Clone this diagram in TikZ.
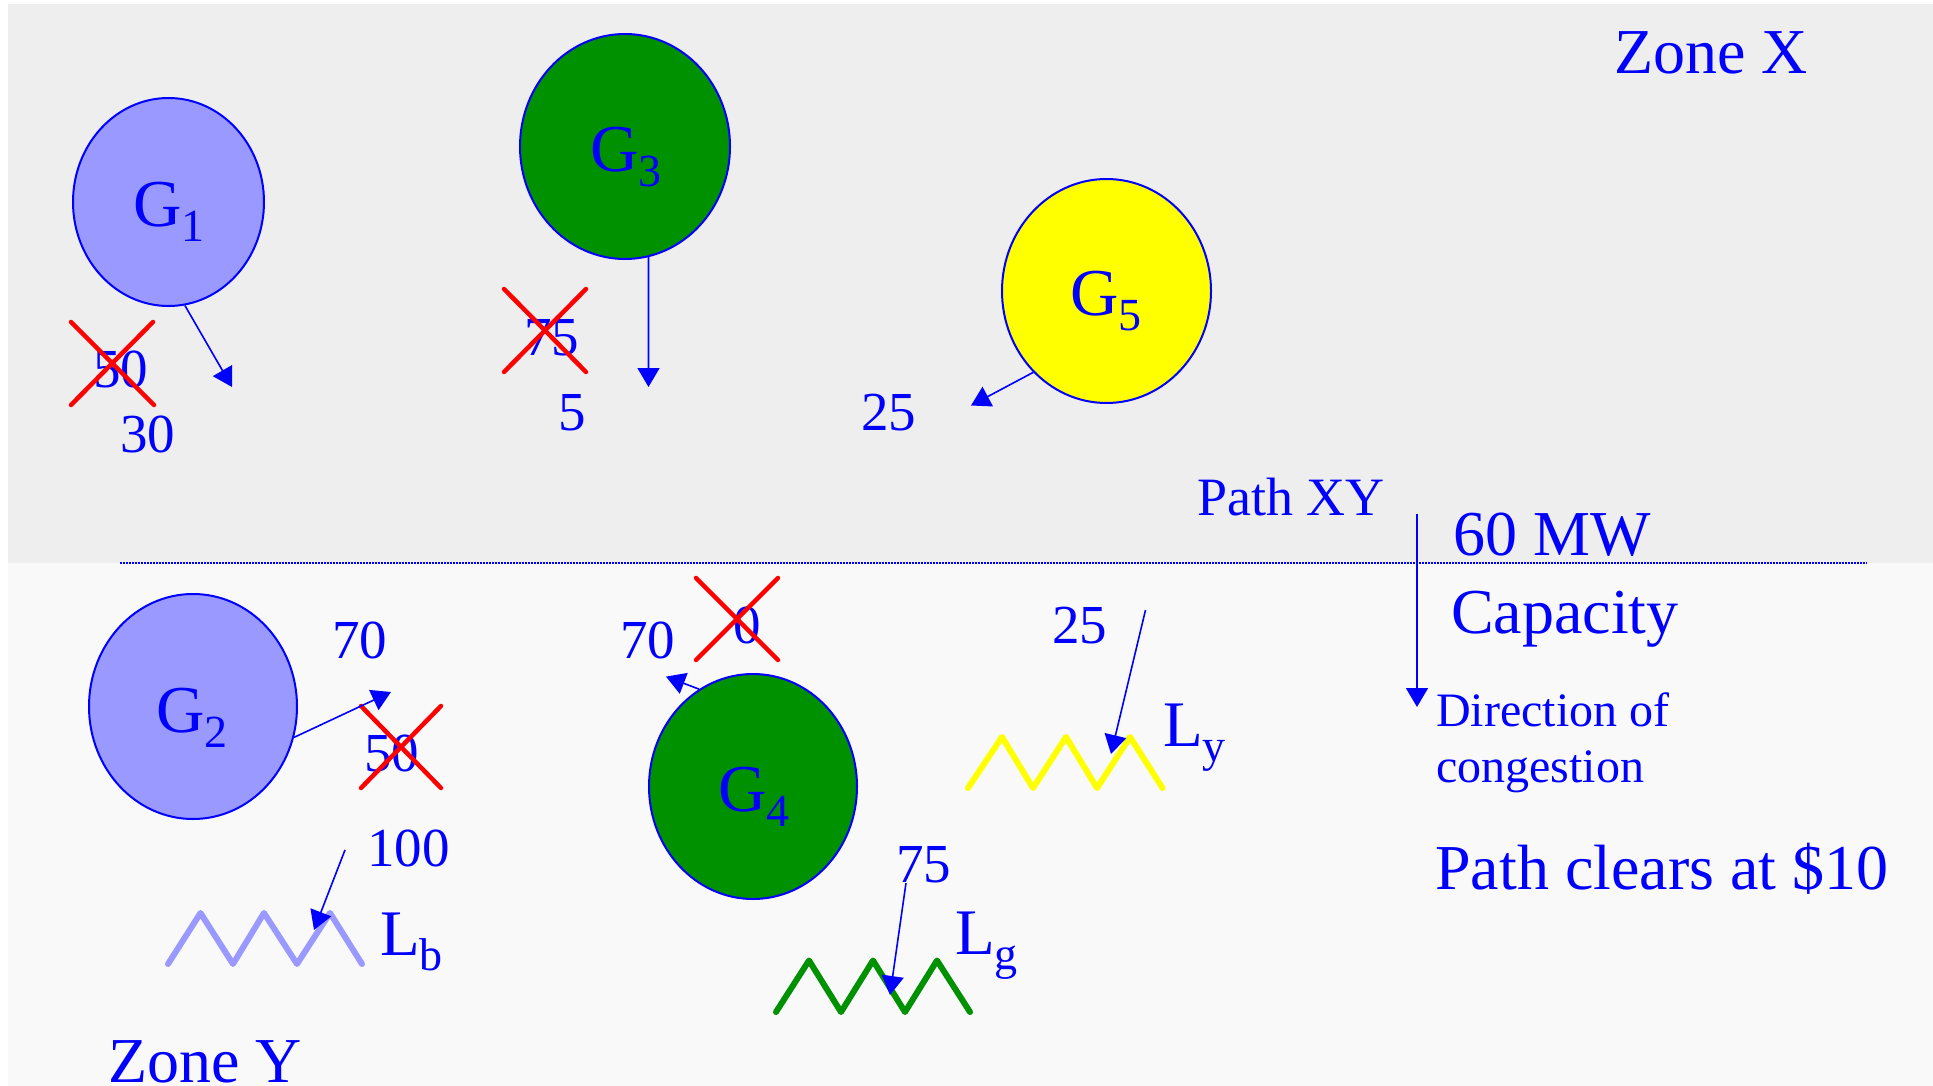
\documentclass[tikz,border=0pt]{standalone}
\usepackage{fontspec}
\setmainfont{Liberation Serif}
\usetikzlibrary{shapes.geometric, arrows.meta}
\definecolor{gbg}{HTML}{EEEEEE}
\definecolor{lbg}{HTML}{F9F9F9}
\definecolor{lblue}{HTML}{9999FF}
\definecolor{dgreen}{HTML}{009100}
\definecolor{myblue}{HTML}{0000FF}
\definecolor{myred}{HTML}{FF0000}
\definecolor{myyellow}{HTML}{FFFF00}
\newcommand\mysub[1]{\raisebox{-15pt}{\fontsize{46}{46}\selectfont #1}}
\begin{document}
\begin{tikzpicture}[x=1pt,y=-1pt,
  gen/.style={ellipse, draw=myblue, line width=2pt, inner sep=0pt},
  lab/.style={text=myblue, inner sep=0pt, anchor=base west},
  glab/.style={lab, font=\fontsize{67}{67}\selectfont},
  num/.style={lab, font=\fontsize{55}{55}\selectfont},
  big/.style={lab, font=\fontsize{64}{64}\selectfont},
  mid/.style={lab, font=\fontsize{48}{48}\selectfont},
  flow/.style={draw=myblue, line width=1.6pt, -{Triangle[length=19pt,width=22pt]}},
  cross/.style={draw=myred, line width=4.5pt, line cap=round},
  loadzz/.style={line width=6pt, line cap=round, line join=round},
]
\useasboundingbox (0,0) rectangle (1933,1086);
\fill[white] (0,0) rectangle (1933,1086);
\fill[gbg] (8,4) rectangle (1933,563);
\fill[lbg] (8,563) rectangle (1933,1086);
\draw[myblue, line width=1.5pt, dash pattern=on 1.5pt off 1.5pt] (120,563) -- (1867,563);

% generators
\node[gen, fill=lblue, minimum width=191pt, minimum height=208pt] (g1) at (168.5,202) {};
\node[gen, fill=dgreen, minimum width=210pt, minimum height=225pt] (g3) at (625,146.5) {};
\node[gen, fill=myyellow, minimum width=209pt, minimum height=224pt] (g5) at (1106.5,291) {};
\node[gen, fill=lblue, minimum width=208pt, minimum height=225pt] (g2) at (193,706.5) {};
\node[gen, fill=dgreen, minimum width=208pt, minimum height=225pt] (g4) at (753,786.5) {};

\node[glab] (g1l) at (133,227) {G\mysub{1}};
\node[glab] (g3l) at (590,172) {G\mysub{3}};
\node[glab] (g5l) at (1070,315) {G\mysub{5}};
\node[glab] (g2l) at (156,732) {G\mysub{2}};
\node[glab] (g4l) at (718,811) {G\mysub{4}};

% loads
\draw[loadzz, lblue] (168,964)--(200.5,913)--(233,964)--(264,913)--(297,964)--(330,913)--(362,964);
\draw[loadzz, myyellow] (968,788)--(1002,737)--(1033,788)--(1066,737)--(1097,788)--(1130,737)--(1162.5,788);
\draw[loadzz, dgreen] (776,1012)--(809,960.5)--(841,1012)--(873,960.5)--(905,1012)--(937,960.5)--(970,1012);

\node[glab, font=\fontsize{65}{65}\selectfont] (lbl) at (380,955) {L\mysub{b}};
\node[glab, font=\fontsize{65}{65}\selectfont] (lyl) at (1163,746) {L\mysub{y}};
\node[glab, font=\fontsize{65}{65}\selectfont] (lgl) at (955,954) {L\mysub{g}};

% numbers
\node[num] (n50a) at (93,387) {50};
\node[num] (n30) at (120,452) {30};
\node[num] (n75a) at (524,355) {75};
\node[num] (n5) at (558,430) {5};
\node[num] (n25a) at (861,430) {25};
\node[num] (n70a) at (332,658) {70};
\node[num] (n50b) at (364,771) {50};
\node[num] (n100) at (367,866) {100};
\node[num] (n70b) at (620,658) {70};
\node[num] (n0) at (733,643) {0};
\node[num] (n25b) at (1052,643) {25};
\node[num] (n75b) at (896,882) {75};

% crosses
\draw[cross] (71,322)--(154,405) (153,322)--(71,405);
\draw[cross] (504,289)--(586,372) (586,289)--(504,372);
\draw[cross] (361,706)--(441,788) (441,706)--(361,788);
\draw[cross] (696,578)--(778,660) (778,578)--(696,660);

% flow arrows
\coordinate (t1) at (232,387);
\coordinate (t3) at (648.5,387);
\coordinate (t5) at (971,405.5);
\coordinate (t2) at (391,692);
\coordinate (t4) at (666,676.6);
\draw[flow] (g1.-81) -- (t1);
\draw[flow] (g3.-78) -- (t3);
\draw[flow] (g5.-132) -- (t5);
\draw[flow] (g2.-17) -- (t2);
\draw[flow] (g4.119.4) -- (t4);

\coordinate (lb0) at (345,850); \coordinate (lb1) at (314,930);
\coordinate (ly0) at (1145.5,610); \coordinate (ly1) at (1111,754);
\coordinate (lg0) at (906,883); \coordinate (lg1) at (890,995);
\draw[flow] (lb0) -- (lb1);
\draw[flow] (ly0) -- (ly1);
\draw[flow] (lg0) -- (lg1);

% path info
\coordinate (p0) at (1417,514); \coordinate (p1) at (1417,707);
\draw[flow] (p0) -- (p1);
\node[big] (zx) at (1614,74) {Zone X};
\node[big] (zy) at (108,1082) {Zone Y};
\node[lab, font=\fontsize{54}{54}\selectfont] (pxy) at (1197,515) {Path XY};
\node[big] (mw) at (1453,555) {60 MW};
\node[big] (cap) at (1451,633) {Capacity};
\node[mid] (dir) at (1436,726) {Direction of};
\node[mid] (cong) at (1436,782) {congestion};
\node[big] (clr) at (1435,889) {Path clears at \$10};
\end{tikzpicture}
\end{document}
